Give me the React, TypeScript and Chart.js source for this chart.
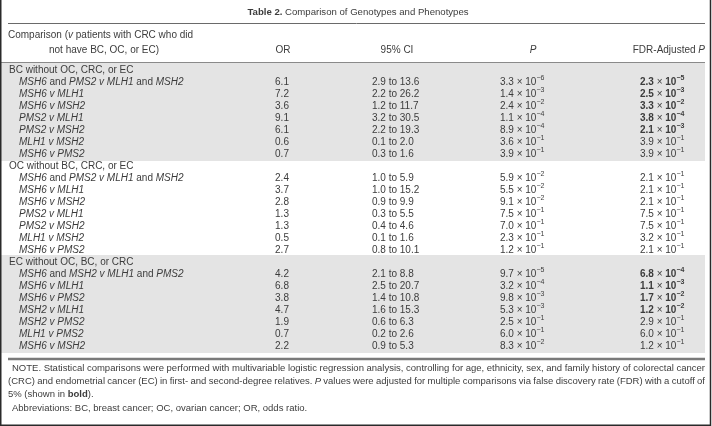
import React, { useEffect, useRef } from "react";
import { Chart, registerables } from "chart.js";

Chart.register(...registerables);

// ---------------- data ----------------
const TITLE_LABEL = "Table 2.";
const TITLE_TEXT = "Comparison of Genotypes and Phenotypes";
const HEADER_COMPARISON_1 = "Comparison (v patients with CRC who did";
const HEADER_COMPARISON_2 = "not have BC, OC, or EC)";
const HEADER_OR = "OR";
const HEADER_CI = "95% CI";
const HEADER_P = "P";
const HEADER_FDR = "FDR-Adjusted P";

const SECTIONS = [
  "BC without OC, CRC, or EC",
  "OC without BC, CRC, or EC",
  "EC without OC, BC, or CRC",
];

const COMPARISONS = [
  ["MSH6 and PMS2 v MLH1 and MSH2", "MSH6 v MLH1", "MSH6 v MSH2", "PMS2 v MLH1", "PMS2 v MSH2", "MLH1 v MSH2", "MSH6 v PMS2"],
  ["MSH6 and PMS2 v MLH1 and MSH2", "MSH6 v MLH1", "MSH6 v MSH2", "PMS2 v MLH1", "PMS2 v MSH2", "MLH1 v MSH2", "MSH6 v PMS2"],
  ["MSH6 and MSH2 v MLH1 and PMS2", "MSH6 v MLH1", "MSH6 v PMS2", "MSH2 v MLH1", "MSH2 v PMS2", "MLH1 v PMS2", "MSH6 v MSH2"],
];

const OR_VALUES = [
  [6.1, 7.2, 3.6, 9.1, 6.1, 0.6, 0.7],
  [2.4, 3.7, 2.8, 1.3, 1.3, 0.5, 2.7],
  [4.2, 6.8, 3.8, 4.7, 1.9, 0.7, 2.2],
];

const CI_LOW = [
  [2.9, 2.2, 1.2, 3.2, 2.2, 0.1, 0.3],
  [1.0, 1.0, 0.9, 0.3, 0.4, 0.1, 0.8],
  [2.1, 2.5, 1.4, 1.6, 0.6, 0.2, 0.9],
];

const CI_HIGH = [
  [13.6, 26.2, 11.7, 30.5, 19.3, 2.0, 1.6],
  [5.9, 15.2, 9.9, 5.5, 4.6, 1.6, 10.1],
  [8.8, 20.7, 10.8, 15.3, 6.3, 2.6, 5.3],
];

const P_VALUES = [
  ["3.3e-6", "1.4e-3", "2.4e-2", "1.1e-4", "8.9e-4", "3.6e-1", "3.9e-1"],
  ["5.9e-2", "5.5e-2", "9.1e-2", "7.5e-1", "7.0e-1", "2.3e-1", "1.2e-1"],
  ["9.7e-5", "3.2e-4", "9.8e-3", "5.3e-3", "2.5e-1", "6.0e-1", "8.3e-2"],
];

const FDR_VALUES = [
  ["2.3e-5", "2.5e-3", "3.3e-2", "3.8e-4", "2.1e-3", "3.9e-1", "3.9e-1"],
  ["2.1e-1", "2.1e-1", "2.1e-1", "7.5e-1", "7.5e-1", "3.2e-1", "2.1e-1"],
  ["6.8e-4", "1.1e-3", "1.7e-2", "1.2e-2", "2.9e-1", "6.0e-1", "1.2e-1"],
];

const FDR_CUTOFF = 0.05;

const NOTE_LINES = [
  [{ t: "NOTE. Statistical comparisons were performed with multivariable logistic regression analysis, controlling for age, ethnicity, sex, and family history of colorectal cancer", s: "n" }],
  [
    { t: "(CRC) and endometrial cancer (EC) in first- and second-degree relatives. ", s: "n" },
    { t: "P", s: "i" },
    { t: " values were adjusted for multiple comparisons via false discovery rate (FDR) with a cutoff of", s: "n" },
  ],
  [
    { t: "5% (shown in ", s: "n" },
    { t: "bold", s: "b" },
    { t: ").", s: "n" },
  ],
  [{ t: "Abbreviations: BC, breast cancer; OC, ovarian cancer; OR, odds ratio.", s: "n" }],
];
const NOTE_INDENT = [4, 0, 0, 4];
const NOTE_JUSTIFY = [true, true, false, false];

// ---------------- layout ----------------
const W = 712;
const H = 426;
const FONT = '"Liberation Sans", Arial, sans-serif';
const TEXT_COLOR = "#3c3c3c";
const BAND_COLOR = "#e4e4e4";

type Run = { t: string; s: string; sup?: boolean };

function fontFor(style: string, size: number) {
  if (style === "b") return `bold ${size}px ${FONT}`;
  if (style === "i") return `italic ${size}px ${FONT}`;
  return `${size}px ${FONT}`;
}

function runWidth(ctx: CanvasRenderingContext2D, runs: Run[], size: number) {
  let w = 0;
  for (const r of runs) {
    const sz = r.sup ? size * 0.7 : size;
    ctx.font = fontFor(r.s, sz);
    w += ctx.measureText(r.t).width;
  }
  return w;
}

function countSpaces(runs: Run[]) {
  return runs.reduce((n, r) => n + (r.t.match(/ /g) || []).length, 0);
}

function drawRuns(
  ctx: CanvasRenderingContext2D,
  runs: Run[],
  x: number,
  y: number,
  size: number,
  align: "left" | "center" | "right" = "left",
  justifyTo = 0
) {
  const w = runWidth(ctx, runs, size);
  let extra = 0;
  if (justifyTo > 0) {
    const n = countSpaces(runs);
    if (n > 0) extra = (justifyTo - w) / n;
  }
  let cx = align === "left" ? x : align === "center" ? x - w / 2 : x - w;
  ctx.textAlign = "left";
  ctx.textBaseline = "middle";
  for (const r of runs) {
    const sz = r.sup ? size * 0.7 : size;
    ctx.font = fontFor(r.s, sz);
    const yy = r.sup ? y - size * 0.38 : y;
    if (extra !== 0) {
      const parts = r.t.split(" ");
      parts.forEach((p, i) => {
        if (p) {
          ctx.fillText(p, cx, yy);
          cx += ctx.measureText(p).width;
        }
        if (i < parts.length - 1) cx += ctx.measureText(" ").width + extra;
      });
    } else {
      ctx.fillText(r.t, cx, yy);
      cx += ctx.measureText(r.t).width;
    }
  }
}

function comparisonRuns(text: string): Run[] {
  const words = text.split(" ");
  const runs: Run[] = [];
  words.forEach((w, i) => {
    runs.push({ t: w + (i < words.length - 1 ? " " : ""), s: w === "and" ? "n" : "i" });
  });
  return runs;
}

function sciRuns(v: string, bold: boolean): Run[] {
  const [m, e] = v.split("e");
  const s = bold ? "b" : "n";
  return [
    { t: m, s },
    { t: " \u00d7 ", s: "n" },
    { t: "10", s },
    { t: "\u2212" + e.replace("-", ""), s, sup: true },
  ];
}

const tablePlugin = {
  id: "tablePlugin",
  beforeDraw(chart: any) {
    const ctx: CanvasRenderingContext2D = chart.ctx;
    const xs = chart.scales.x;
    const ys = chart.scales.y;
    const X = (v: number) => xs.getPixelForValue(v);
    const Y = (v: number) => ys.getPixelForValue(v);

    ctx.save();
    ctx.fillStyle = "#ffffff";
    ctx.fillRect(0, 0, W, H);

    const ROW0 = 70;
    const PITCH = 12;
    const rowY = (i: number) => Y(ROW0 + i * PITCH);

    // bands (BC and EC sections are shaded)
    ctx.fillStyle = BAND_COLOR;
    [0, 2].forEach((s) => {
      const top = rowY(s * 8) - PITCH / 2 - 1;
      const bottom = rowY(s * 8 + 7) + PITCH / 2 + 1;
      ctx.fillRect(X(1), top, X(705) - X(1), bottom - top);
    });

    // rules
    ctx.strokeStyle = "#6a6a6a";
    ctx.lineWidth = 1;
    ctx.beginPath();
    ctx.moveTo(X(8), Y(23.5));
    ctx.lineTo(X(705), Y(23.5));
    ctx.stroke();
    ctx.strokeStyle = "#8a8a8a";
    ctx.beginPath();
    ctx.moveTo(X(1), Y(62.5));
    ctx.lineTo(X(705), Y(62.5));
    ctx.stroke();
    ctx.strokeStyle = "#7a7a7a";
    ctx.lineWidth = 2.5;
    ctx.beginPath();
    ctx.moveTo(X(8), Y(359));
    ctx.lineTo(X(705), Y(359));
    ctx.stroke();

    // outer frame (left, right, bottom)
    ctx.strokeStyle = "#2a2a2a";
    ctx.lineWidth = 1.5;
    ctx.beginPath();
    ctx.moveTo(X(0.75), Y(0));
    ctx.lineTo(X(0.75), Y(425.25));
    ctx.lineTo(X(710.5), Y(425.25));
    ctx.lineTo(X(710.5), Y(0));
    ctx.stroke();

    ctx.fillStyle = TEXT_COLOR;
    const FS = 10;

    // title
    drawRuns(ctx, [{ t: TITLE_LABEL, s: "b" }, { t: " " + TITLE_TEXT, s: "n" }], X(358), Y(12), 9.6, "center");

    // header
    const hc1: Run[] = [
      { t: "Comparison (", s: "n" },
      { t: "v", s: "i" },
      { t: HEADER_COMPARISON_1.replace("Comparison (v", ""), s: "n" },
    ];
    drawRuns(ctx, hc1, X(8), Y(35), FS, "left");
    drawRuns(ctx, [{ t: HEADER_COMPARISON_2, s: "n" }], X(49), Y(50), FS, "left");
    drawRuns(ctx, [{ t: HEADER_OR, s: "n" }], X(283), Y(50), FS, "center");
    drawRuns(ctx, [{ t: HEADER_CI, s: "n" }], X(397), Y(50), FS, "center");
    drawRuns(ctx, [{ t: HEADER_P, s: "i" }], X(533), Y(50), FS, "center");
    drawRuns(ctx, [{ t: HEADER_FDR.slice(0, -1), s: "n" }, { t: "P", s: "i" }], X(705), Y(50), FS, "right");

    // body
    SECTIONS.forEach((sec, s) => {
      drawRuns(ctx, [{ t: sec, s: "n" }], X(9), rowY(s * 8), FS, "left");
      COMPARISONS[s].forEach((cmp, k) => {
        const y = rowY(s * 8 + 1 + k);
        drawRuns(ctx, comparisonRuns(cmp), X(19), y, FS, "left");
        drawRuns(ctx, [{ t: OR_VALUES[s][k].toFixed(1), s: "n" }], X(282), y, FS, "center");
        drawRuns(ctx, [{ t: `${CI_LOW[s][k].toFixed(1)} to ${CI_HIGH[s][k].toFixed(1)}`, s: "n" }], X(372), y, FS, "left");
        drawRuns(ctx, sciRuns(P_VALUES[s][k], false), X(500), y, FS, "left");
        const fdr = FDR_VALUES[s][k];
        drawRuns(ctx, sciRuns(fdr, parseFloat(fdr) < FDR_CUTOFF), X(640), y, FS, "left");
      });
    });

    // notes
    const NFS = 9.5;
    NOTE_LINES.forEach((line, i) => {
      const x0 = 8 + NOTE_INDENT[i];
      drawRuns(ctx, line as Run[], X(x0), Y(368 + i * 13.3), NFS, "left", NOTE_JUSTIFY[i] ? X(705) - X(x0) : 0);
    });

    ctx.restore();
  },
};

export default function App() {
  const ref = useRef<HTMLCanvasElement | null>(null);
  useEffect(() => {
    document.body.style.margin = "0";
    const canvas = ref.current;
    if (!canvas) return;
    const chart = new Chart(canvas, {
      type: "scatter",
      data: { datasets: [{ data: [], pointRadius: 0 }] },
      options: {
        responsive: false,
        animation: false,
        devicePixelRatio: 1,
        layout: { padding: 0 },
        scales: {
          x: { type: "linear", min: 0, max: W, display: false },
          y: { type: "linear", min: 0, max: H, reverse: true, display: false },
        },
        plugins: { legend: { display: false }, tooltip: { enabled: false } },
      },
      plugins: [tablePlugin],
    });
    return () => chart.destroy();
  }, []);
  return (
    <div style={{ width: W, height: H }}>
      <canvas ref={ref} width={W} height={H} style={{ display: "block" }} />
    </div>
  );
}
